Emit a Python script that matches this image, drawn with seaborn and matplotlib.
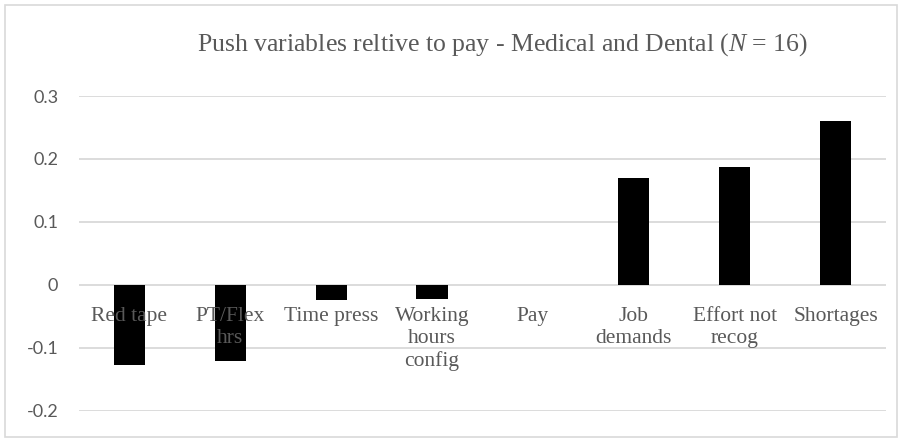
import matplotlib
matplotlib.use("Agg")
import matplotlib.pyplot as plt
import matplotlib.transforms as mtransforms
from matplotlib.patches import Rectangle
import seaborn as sns

sns.set_theme(style="white")
plt.rcParams['mathtext.fontset'] = 'custom'
plt.rcParams['mathtext.rm'] = 'Liberation Serif'
plt.rcParams['mathtext.it'] = 'Liberation Serif:italic'

# values
categories = ['Red tape', 'PT/Flex\nhrs', 'Time press', 'Working\nhours\nconfig',
              'Pay', 'Job\ndemands', 'Effort not\nrecog', 'Shortages']
values = [-0.128, -0.122, -0.024, -0.022, 0.0, 0.169, 0.187, 0.261]
yticks = [-0.2, -0.1, 0, 0.1, 0.2, 0.3]
ytick_labels = ['-0.2', '-0.1', '0', '0.1', '0.2', '0.3']

grey_txt = '#595959'
grid_col = '#d9d9d9'

fig = plt.figure(figsize=(9.02, 4.4), dpi=100)
ax = fig.add_axes([79 / 902, 29.5 / 440, 807 / 902, 314.5 / 440])

sns.barplot(x=categories, y=values, color='black', width=0.31,
            linewidth=0, saturation=1, ax=ax, zorder=2)

ax.set_ylim(-0.2, 0.3)
ax.set_xlim(-0.5, len(categories) - 0.5)
ax.set_yticks(yticks)
ax.set_yticklabels(ytick_labels, fontfamily='Lato', fontsize=13, color=grey_txt)
ax.tick_params(axis='y', length=0, pad=15)
ax.set_xticks([])
ax.set_xlabel('')
ax.set_ylabel('')
for yv in yticks:
    ax.axhline(yv, color=grid_col, lw=1.3, zorder=0)
for s in ax.spines.values():
    s.set_visible(False)

# category labels sit just under the zero line, drawn over the bars
trans = mtransforms.offset_copy(ax.transData, fig=fig, x=0, y=-16, units='points')
for i, lab in enumerate(categories):
    ax.text(i, 0, lab, transform=trans, ha='center', va='top', multialignment='center',
            fontfamily='Liberation Serif', fontsize=15.5, color=grey_txt,
            linespacing=1.2, zorder=5)

fig.text(502 / 902, 1 - 45 / 440,
         r'Push variables reltive to pay - Medical and Dental ($\mathit{N}$ = 16)',
         ha='center', va='center', fontfamily='Liberation Serif', fontsize=18.5,
         color=grey_txt)

# light chart border
fig.patches.append(Rectangle((5 / 902, 3 / 440), 892 / 902, 432 / 440,
                             transform=fig.transFigure, fill=False,
                             edgecolor='#d9d9d9', lw=1.2))

fig.savefig('out.png', dpi=100, facecolor='white')
